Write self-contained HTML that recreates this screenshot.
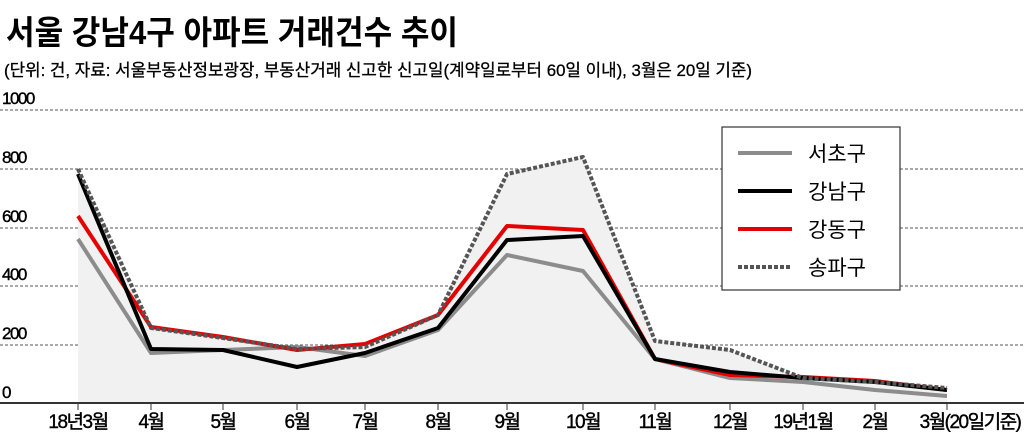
<!DOCTYPE html>
<html><head><meta charset="utf-8"><style>
body{margin:0;width:1024px;height:432px;background:#fff;overflow:hidden;font-family:"Liberation Sans","Noto Sans CJK KR",sans-serif}
</style></head><body>
<svg width="1024" height="432" viewBox="0 0 1024 432" xmlns="http://www.w3.org/2000/svg" font-family="Liberation Sans, Noto Sans CJK KR, sans-serif">
<text x="6" y="44" font-size="33" font-weight="bold" fill="#000" textLength="452" lengthAdjust="spacingAndGlyphs">서울 강남4구 아파트 거래건수 추이</text>
<text x="4" y="76" font-size="17" fill="#000" stroke="#000" stroke-width="0.3" textLength="748" lengthAdjust="spacingAndGlyphs">(단위: 건, 자료: 서울부동산정보광장, 부동산거래 신고한 신고일(계약일로부터 60일 이내), 3월은 20일 기준)</text>
<g stroke="#555" stroke-width="1" stroke-dasharray="3,2">
<line x1="0" x2="1024" y1="110" y2="110"/><line x1="0" x2="1024" y1="169" y2="169"/><line x1="0" x2="1024" y1="228" y2="228"/><line x1="0" x2="1024" y1="286" y2="286"/><line x1="0" x2="1024" y1="345" y2="345"/>
</g>
<g font-size="17" fill="#000" stroke="#000" stroke-width="0.4" letter-spacing="-1.5">
<text x="2" y="104">1000</text><text x="2" y="163">800</text><text x="2" y="222">600</text><text x="2" y="280">400</text><text x="2" y="339">200</text><text x="2" y="398">0</text>
</g>
<polygon fill="#f1f1f1" points="78,403 78,169 151,328 223,338 297,349 365,347 438,315 507,174 583,157 655,341 730,350 803,378 875,382 947,388 947,403"/>
<line x1="0" x2="1024" y1="403" y2="403" stroke="#333" stroke-width="2"/>
<g stroke="#333" stroke-width="1">
<line x1="78" x2="78" y1="403" y2="410"/><line x1="151" x2="151" y1="403" y2="410"/><line x1="223" x2="223" y1="403" y2="410"/><line x1="297" x2="297" y1="403" y2="410"/><line x1="365" x2="365" y1="403" y2="410"/><line x1="438" x2="438" y1="403" y2="410"/><line x1="507" x2="507" y1="403" y2="410"/><line x1="583" x2="583" y1="403" y2="410"/><line x1="655" x2="655" y1="403" y2="410"/><line x1="730" x2="730" y1="403" y2="410"/><line x1="803" x2="803" y1="403" y2="410"/><line x1="875" x2="875" y1="403" y2="410"/><line x1="947" x2="947" y1="403" y2="410"/>
</g>
<g font-size="19" fill="#000" stroke="#000" stroke-width="0.4" text-anchor="middle" letter-spacing="-1.5">
<text x="78" y="428">18년3월</text><text x="151" y="428">4월</text><text x="223" y="428">5월</text><text x="297" y="428">6월</text><text x="365" y="428">7월</text><text x="438" y="428">8월</text><text x="507" y="428">9월</text><text x="583" y="428">10월</text><text x="655" y="428">11월</text><text x="730" y="428">12월</text><text x="803" y="428">19년1월</text><text x="875" y="428">2월</text><text x="970" y="428">3월(20일기준)</text>
</g>
<g fill="none" stroke-width="4" stroke-linejoin="round">
<polyline stroke="#8c8c8c" points="78,239 151,353 223,350 297,347 365,356 438,330 507,255 583,271 655,359 730,378 803,382 875,390 947,396"/>
<polyline stroke="#e60000" points="78,216 151,327 223,337 297,350 365,344 438,315 507,226 583,230 655,359 730,375 803,377 875,381 947,390"/>
<polyline stroke="#000" points="78,174 151,349 223,350 297,367 365,353 438,328 507,240 583,236 655,359 730,372 803,378 875,382 947,390"/>
<polyline stroke="#555" stroke-dasharray="4,2" points="78,169 151,328 223,338 297,349 365,347 438,315 507,174 583,157 655,341 730,350 803,378 875,382 947,388"/>
</g>
<rect x="722" y="127" width="178" height="163" fill="#fff" stroke="#333" stroke-width="1.2"/>
<g stroke-width="4">
<line x1="738" x2="792" y1="153" y2="153" stroke="#8c8c8c"/>
<line x1="738" x2="792" y1="191" y2="191" stroke="#000"/>
<line x1="738" x2="792" y1="229" y2="229" stroke="#e60000"/>
<line x1="738" x2="792" y1="267" y2="267" stroke="#555" stroke-dasharray="4,2"/>
</g>
<g font-size="21" fill="#000">
<text x="808" y="161">서초구</text><text x="808" y="199">강남구</text><text x="808" y="237">강동구</text><text x="808" y="275">송파구</text>
</g>
</svg>
</body></html>
